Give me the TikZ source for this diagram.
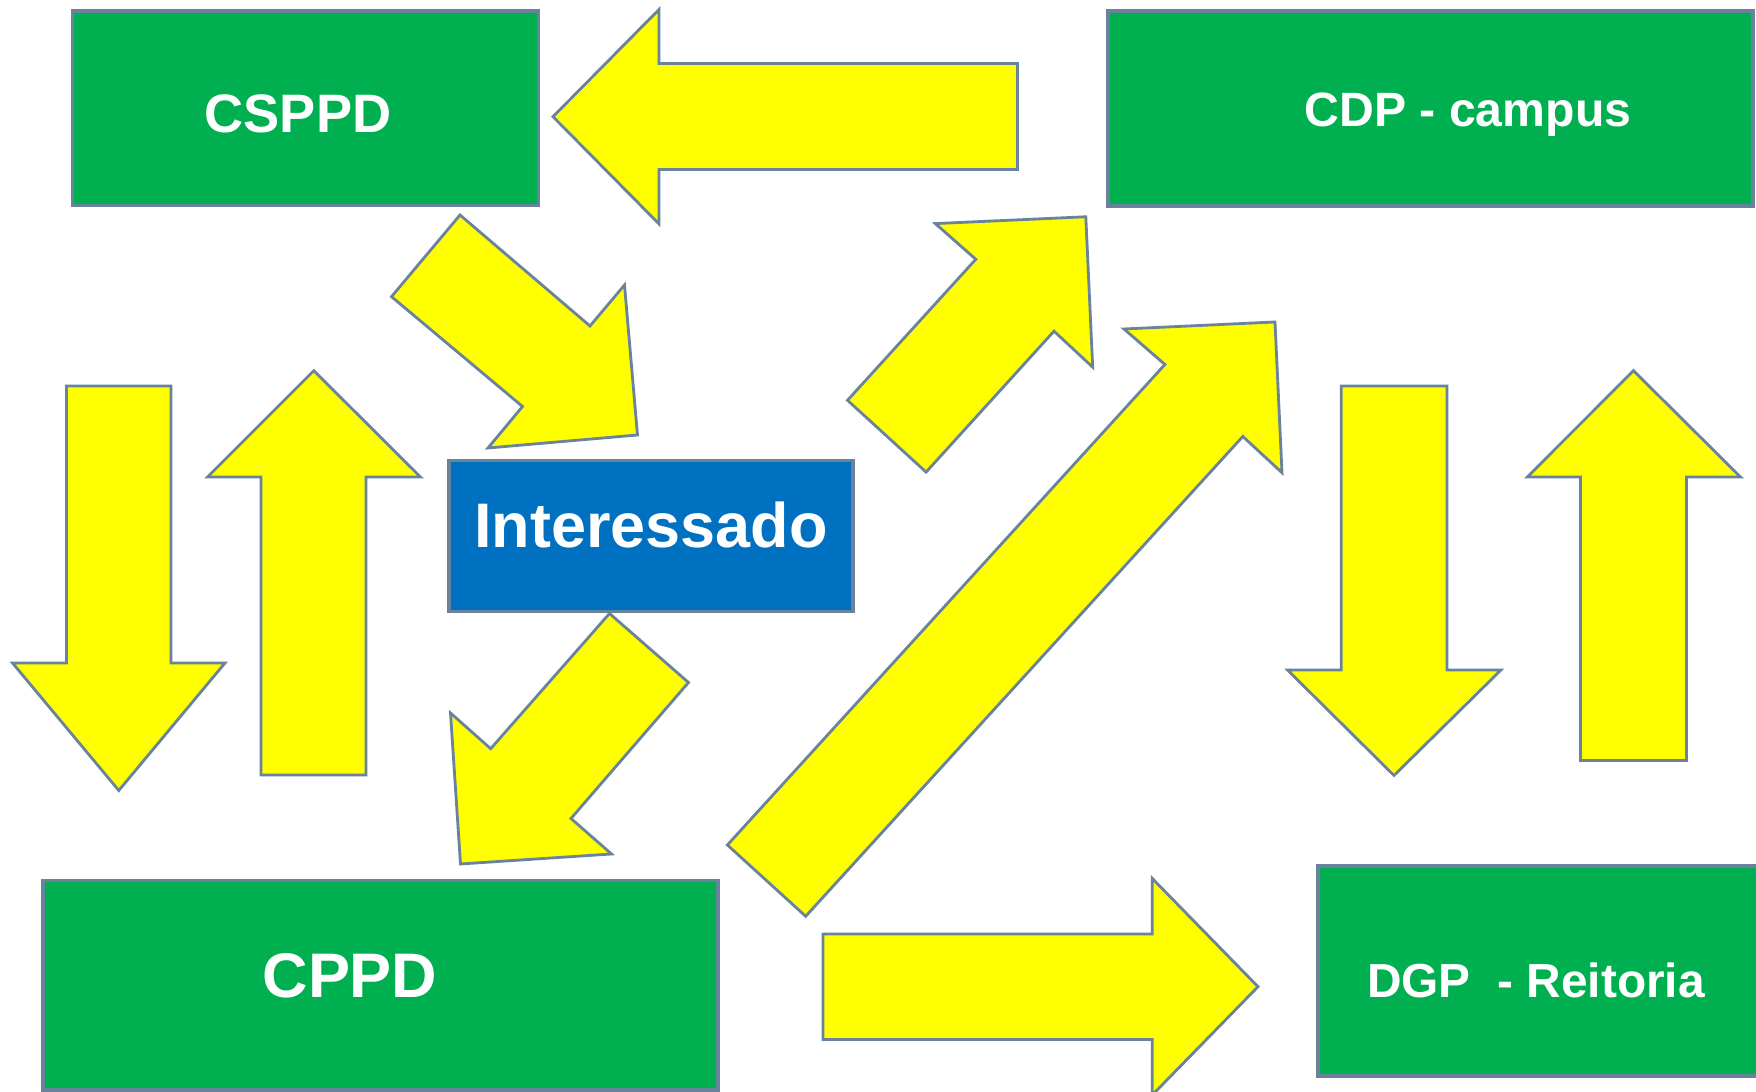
\documentclass[tikz,border=0pt]{standalone}
\usepackage{fontspec}
\setmainfont{Liberation Sans}
\definecolor{boxgreen}{RGB}{0,176,80}
\definecolor{boxblue}{RGB}{0,112,192}
\definecolor{arrowyellow}{RGB}{255,255,0}
\definecolor{edgegray}{RGB}{104,131,155}
\tikzset{
  box/.style={draw=edgegray, line width=0.035cm, inner sep=0pt, outer sep=0pt, rectangle},
  greenbox/.style={box, fill=boxgreen},
  bluebox/.style={box, fill=boxblue},
  blockarrow/.style={draw=edgegray, fill=arrowyellow, line width=0.028cm, line join=miter},
  lbl/.style={text=white, font=\bfseries, inner sep=0pt, anchor=base}
}
\begin{document}
\begin{tikzpicture}[x=0.01cm, y=-0.01cm]
\useasboundingbox (0,0) rectangle (1756,1092);
\clip (0,0) rectangle (1756,1092);

% boxes
\node[greenbox, minimum width=4.66cm, minimum height=1.945cm] (csppd) at (305.6,108.3) {};
\node[greenbox, minimum width=6.45cm, minimum height=1.95cm] (cdp) at (1430.5,108.5) {};
\node[bluebox, minimum width=4.04cm, minimum height=1.508cm] (int) at (651,536) {};
\node[greenbox, minimum width=6.75cm, minimum height=2.095cm] (cppd) at (380.5,985.3) {};
\node[greenbox, minimum width=4.46cm, minimum height=2.10cm] (dgp) at (1541,971) {};

% labels
\node[lbl, font=\fontsize{15.4pt}{18pt}\selectfont\bfseries] (tcsppd) at (298,133) {CSPPD};
\node[lbl, font=\fontsize{13.7pt}{16pt}\selectfont\bfseries] (tcdp) at (1468,127) {CDP - campus};
\node[lbl, font=\fontsize{17.9pt}{21pt}\selectfont\bfseries] (tint) at (651,548) {Interessado};
\node[lbl, font=\fontsize{17.9pt}{21pt}\selectfont\bfseries] (tcppd) at (350,997.7) {CPPD};
\node[lbl, font=\fontsize{13.6pt}{16pt}\selectfont\bfseries] (tdgp) at (1536,997.7) {DGP\ \ - Reitoria};

% top left-pointing arrow (CDP -> CSPPD)
\draw[blockarrow] (553,116.7) -- (659,9.5) -- (659,63.5) -- (1017.5,63.5) -- (1017.5,169.5) -- (659,169.5) -- (659,224) -- cycle;

% left vertical arrows
\draw[blockarrow] (66.5,386) -- (171,386) -- (171,663) -- (225,663) -- (118.8,790.5) -- (12.5,663) -- (66.5,663) -- cycle;
\draw[blockarrow] (313.8,370.7) -- (420.5,477) -- (366,477) -- (366,775) -- (261,775) -- (261,477) -- (207.5,477) -- cycle;

% right vertical arrows
\draw[blockarrow] (1341.3,386) -- (1447,386) -- (1447,670) -- (1501,670) -- (1394,775.5) -- (1287.5,670) -- (1341.3,670) -- cycle;
\draw[blockarrow] (1633.5,370.7) -- (1740.5,477) -- (1686.5,477) -- (1686.5,760.6) -- (1580.5,760.6) -- (1580.5,477) -- (1527.3,477) -- cycle;

% CSPPD -> Interessado
\draw[blockarrow] (460,215) -- (590,326) -- (624.5,285) -- (637.5,435) -- (488,448) -- (522.5,406.5) -- (391.5,296.7) -- cycle;

% Interessado -> CPPD
\draw[blockarrow] (609.5,613.5) -- (688.5,682.5) -- (571,818.5) -- (611.5,854) -- (460.5,864) -- (450.5,713) -- (490.7,748.7) -- cycle;

% small up-right arrow toward CDP
\draw[blockarrow] (847.5,400.3) -- (975.8,259.3) -- (935.3,223.6) -- (1085.8,216.8) -- (1092.7,367.2) -- (1054,331.2) -- (926.1,472.1) -- cycle;

% long up-right arrow
\draw[blockarrow] (727.4,845) -- (1164.9,364.5) -- (1124,329) -- (1275,322) -- (1282,472.7) -- (1242.8,436.5) -- (805.7,916.3) -- cycle;

% bottom right-pointing arrow (-> DGP)
\draw[blockarrow] (823,934) -- (1152.3,934) -- (1152.3,878.5) -- (1258,986.7) -- (1152.3,1095) -- (1152.3,1039.5) -- (823,1039.5) -- cycle;
\end{tikzpicture}
\end{document}
